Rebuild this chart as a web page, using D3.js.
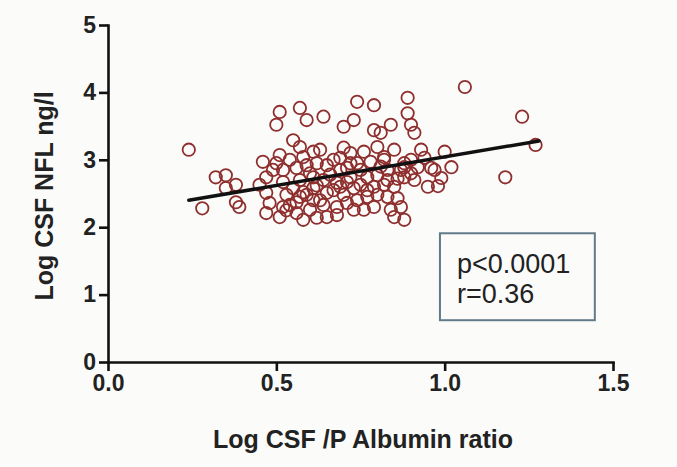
<!DOCTYPE html>
<html><head><meta charset="utf-8">
<script src="https://cdn.jsdelivr.net/npm/d3@7"></script>
<style>body{margin:0;background:#fbfbfa}svg{display:block}</style>
</head><body><svg id="c" width="677" height="467"></svg>
<script>
const albuminRatio = [
0.24,0.28,0.32,0.35,0.38,0.35,0.38,0.39,
0.46,0.47,0.47,0.47,0.48,
0.51,0.52,0.52,0.53,0.52,0.51,0.51,0.50,
0.57,0.58,0.56,0.57,0.58,0.56,0.56,0.58,0.57,0.59,
0.61,0.62,0.61,0.61,0.61,0.60,0.62,
0.65,0.64,0.65,0.64,0.65,0.64,
0.70,0.69,0.69,0.68,0.70,0.68,0.68,0.70,
0.72,0.74,0.72,0.73,0.74,0.73,0.73,0.74,
0.76,0.78,0.77,0.79,0.77,0.79,0.79,0.79,
0.80,0.82,0.83,0.82,0.83,0.84,0.81,0.84,
0.85,0.87,0.88,0.88,0.87,0.88,0.85,0.86,0.82,0.83,
0.89,0.89,0.90,0.91,0.90,0.90,0.92,0.91,
0.96,0.95,0.99,1.02,1.00,1.06,1.18,1.23,1.27,
0.45,0.49,0.54,0.55,0.54,0.59,0.59,0.63,0.63,0.67,
0.67,0.71,0.71,0.71,0.75,0.75,0.76,0.80,0.80,0.85,
0.93,0.94,0.97,0.98,0.55,
0.50,0.53,0.57,0.60,0.62,0.66,0.69,0.72,0.77,0.81,0.86,0.88];
const csfNfl = [
3.15,2.28,2.74,2.77,2.63,2.58,2.37,2.30,
2.97,2.74,2.51,2.21,2.36,
3.07,2.85,2.67,2.48,2.30,2.15,3.71,3.52,
3.19,3.04,2.88,2.70,2.52,2.37,2.21,2.11,3.77,3.59,
3.12,2.95,2.74,2.58,2.40,2.26,2.14,
2.92,2.70,2.51,2.33,2.15,3.64,
3.18,3.03,2.85,2.66,2.48,2.30,2.18,3.49,
3.10,2.95,2.74,2.58,2.40,2.26,3.59,3.86,
3.12,2.97,2.74,2.60,2.45,2.30,3.81,3.44,
3.19,3.04,2.85,2.63,2.45,2.26,3.40,3.52,
2.15,2.30,2.11,2.89,2.85,2.74,2.60,2.43,3.00,2.70,
3.92,3.69,3.52,3.40,3.00,2.80,2.89,2.70,
2.88,2.60,2.73,2.89,3.12,4.08,2.74,3.64,3.22,
2.63,2.85,3.00,2.58,2.33,2.92,2.48,3.15,2.40,3.00,
2.55,2.88,2.67,2.36,2.85,2.63,2.26,2.77,2.48,3.15,
3.15,3.03,2.85,2.61,3.29,
2.95,2.25,2.45,2.80,2.62,2.78,2.60,2.95,2.55,2.90,2.72,2.95];
const xTicks = [0, 0.5, 1.0, 1.5];
const yTicks = [0, 1, 2, 3, 4, 5];
const fitX = [0.24, 1.28];
const fitY = [2.40, 3.28];
const statsLines = ["p<0.0001", "r=0.36"];
const xLabel = "Log CSF /P Albumin ratio";
const yLabel = "Log CSF NFL ng/l";

const FONT = "'Liberation Sans', Arial, Helvetica, sans-serif";
const svg = d3.select("#c");
const x = d3.scaleLinear().domain([0, 1.5]).range([108, 613]);
const y = d3.scaleLinear().domain([0, 5]).range([362, 25]);

// points
const pts = albuminRatio.map((v, i) => ({x: v, y: csfNfl[i]}));
svg.append("g").selectAll("circle").data(pts).join("circle")
  .attr("cx", d => x(d.x)).attr("cy", d => y(d.y)).attr("r", 6.2)
  .attr("fill", "none").attr("stroke", "#8e2f2e").attr("stroke-width", 1.8);

// regression line
svg.append("line")
  .attr("x1", x(fitX[0])).attr("y1", y(fitY[0]))
  .attr("x2", x(fitX[1])).attr("y2", y(fitY[1]))
  .attr("stroke", "#111").attr("stroke-width", 3.5).attr("stroke-linecap", "round");

// axes
const gx = svg.append("g").attr("transform", `translate(0,${y(0)})`)
  .call(d3.axisBottom(x).tickValues(xTicks).tickFormat(d3.format(".1f")).tickSize(9).tickSizeOuter(0).tickPadding(4));
const gy = svg.append("g").attr("transform", `translate(${x(0)},0)`)
  .call(d3.axisLeft(y).tickValues(yTicks).tickFormat(d3.format("d")).tickSize(9).tickSizeOuter(0).tickPadding(3));
[gx, gy].forEach(g => {
  g.select(".domain").attr("stroke", "#111").attr("stroke-width", 2.6).attr("stroke-linecap", "square");
  g.selectAll(".tick line").attr("stroke", "#111").attr("stroke-width", 2.6);
  g.selectAll(".tick text").attr("fill", "#222").style("font-family", FONT)
    .style("font-weight", "bold").style("font-size", "23px");
});

// axis titles
svg.append("text").attr("x", 363).attr("y", 448).attr("text-anchor", "middle")
  .style("font-family", FONT).style("font-weight", "bold").style("font-size", "25px")
  .attr("fill", "#222").text(xLabel);
svg.append("text").attr("transform", "translate(53,196) rotate(-90)").attr("text-anchor", "middle")
  .style("font-family", FONT).style("font-weight", "bold").style("font-size", "25px")
  .attr("fill", "#222").text(yLabel);

// stats box
const bx0 = x(0.986), bx1 = x(1.446), by0 = y(1.91), by1 = y(0.62);
svg.append("rect").attr("x", bx0).attr("y", by0).attr("width", bx1 - bx0).attr("height", by1 - by0)
  .attr("fill", "none").attr("stroke", "#627a88").attr("stroke-width", 2);
svg.append("g").selectAll("text").data(statsLines).join("text")
  .attr("x", bx0 + 17).attr("y", (d, i) => by0 + 40 + i * 30)
  .style("font-family", FONT).style("font-size", "27px").attr("fill", "#222").text(d => d);
</script>
</body></html>
